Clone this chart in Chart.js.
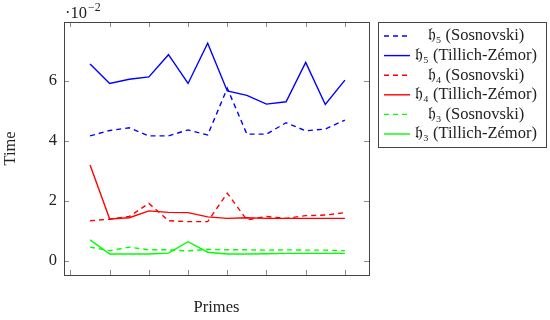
<!DOCTYPE html>
<html>
<head>
<meta charset="utf-8">
<script src="https://cdn.jsdelivr.net/npm/chart.js@4"></script>
<style>
  html, body { margin: 0; padding: 0; background: #fff; }
  #wrap { width: 550px; height: 320px; }
</style>
</head>
<body>
<div id="wrap"><canvas id="chart"></canvas></div>
<script>
// --- Data (Time in units of 10^-2) ---
const primeIdx = [1, 2, 3, 4, 5, 6, 7, 8, 9, 10, 11, 12, 13, 14];
const h5Sos = [4.16, 4.34, 4.43, 4.16, 4.16, 4.36, 4.19, 5.75, 4.22, 4.22, 4.6, 4.33, 4.39, 4.69];
const h5TZ  = [6.56, 5.91, 6.05, 6.13, 6.87, 5.91, 7.25, 5.66, 5.51, 5.22, 5.3, 6.61, 5.21, 6.02];
const h4Sos = [1.33, 1.38, 1.47, 1.91, 1.33, 1.3, 1.3, 2.25, 1.36, 1.47, 1.41, 1.5, 1.52, 1.6];
const h4TZ  = [3.19, 1.39, 1.43, 1.66, 1.61, 1.6, 1.46, 1.41, 1.43, 1.41, 1.41, 1.41, 1.41, 1.41];
const h3Sos = [0.45, 0.33, 0.45, 0.36, 0.36, 0.32, 0.38, 0.36, 0.36, 0.35, 0.36, 0.35, 0.35, 0.33];
const h3TZ  = [0.69, 0.22, 0.22, 0.22, 0.25, 0.63, 0.28, 0.22, 0.22, 0.23, 0.24, 0.24, 0.24, 0.24];
const seriesNames = ['𝔥₅ (Sosnovski)', '𝔥₅ (Tillich-Zémor)', '𝔥₄ (Sosnovski)', '𝔥₄ (Tillich-Zémor)', '𝔥₃ (Sosnovski)', '𝔥₃ (Tillich-Zémor)'];
const yTicks = [0, 2, 4, 6];

const FONT = '"Liberation Serif", "DejaVu Serif", serif';
const FS = 16.5;
const BLUE = 'rgb(0,0,255)', RED = 'rgb(255,0,0)', GREEN = 'rgb(0,255,0)';
const DASH = [5, 4];

const toPoints = arr => arr.map((v, i) => ({ x: primeIdx[i], y: v }));
const mk = (i, vals, color, dashed) => ({
    label: seriesNames[i],
    data: toPoints(vals),
    borderColor: color,
    backgroundColor: color,
    borderWidth: 1.4,
    borderDash: dashed ? DASH : [],
    pointRadius: 0,
    tension: 0,
    fill: false
});

// frame, inward ticks, exponent label and legend
const decor = {
    id: 'decor',
    afterDraw(chart) {
        const { ctx, chartArea: a, scales: { x, y } } = chart;
        ctx.save();
        ctx.lineWidth = 1;
        ctx.strokeStyle = '#8a8a8a';
        ctx.beginPath();
        x.ticks.forEach(t => {
            const px = Math.round(x.getPixelForValue(t.value)) + 0.5;
            ctx.moveTo(px, a.bottom); ctx.lineTo(px, a.bottom - 5);
            ctx.moveTo(px, a.top); ctx.lineTo(px, a.top + 5);
        });
        y.ticks.forEach(t => {
            const py = Math.round(y.getPixelForValue(t.value)) + 0.5;
            ctx.moveTo(a.left, py); ctx.lineTo(a.left + 5, py);
            ctx.moveTo(a.right, py); ctx.lineTo(a.right - 5, py);
        });
        ctx.stroke();
        ctx.strokeStyle = '#444';
        ctx.strokeRect(Math.round(a.left) + 0.5, Math.round(a.top) + 0.5,
            Math.round(a.right - a.left), Math.round(a.bottom - a.top));

        // exponent
        ctx.fillStyle = '#222';
        ctx.textBaseline = 'alphabetic';
        ctx.textAlign = 'left';
        ctx.font = FS + 'px ' + FONT;
        ctx.fillText('·10', a.left + 1, 18);
        const w = ctx.measureText('·10').width;
        ctx.font = '12px ' + FONT;
        ctx.fillText('−2', a.left + 1 + w + 1, 11);

        // legend
        const lx = 378, ly = 22, lw = 168, lh = 125;
        ctx.strokeStyle = '#444';
        ctx.strokeRect(lx + 0.5, ly + 0.5, lw, lh);
        ctx.font = FS + 'px ' + FONT;
        ctx.textAlign = 'center';
        ctx.textBaseline = 'middle';
        chart.data.datasets.forEach((ds, i) => {
            const cy = ly + 14 + i * 19.6;
            ctx.strokeStyle = ds.borderColor;
            ctx.lineWidth = ds.borderWidth;
            ctx.setLineDash(ds.borderDash);
            ctx.beginPath();
            ctx.moveTo(lx + 6, cy); ctx.lineTo(lx + 32, cy);
            ctx.stroke();
            ctx.setLineDash([]);
            ctx.fillStyle = '#222';
            ctx.fillText(ds.label, 476, cy);
        });
        ctx.restore();
    }
};

new Chart(document.getElementById('chart'), {
    type: 'line',
    data: {
        datasets: [
            mk(0, h5Sos, BLUE, true),
            mk(1, h5TZ, BLUE, false),
            mk(2, h4Sos, RED, true),
            mk(3, h4TZ, RED, false),
            mk(4, h3Sos, GREEN, true),
            mk(5, h3TZ, GREEN, false)
        ]
    },
    options: {
        responsive: true,
        maintainAspectRatio: false,
        animation: false,
        layout: { padding: { left: 0, right: 181, top: 22, bottom: 0 } },
        plugins: { legend: { display: false }, tooltip: { enabled: false } },
        scales: {
            x: {
                type: 'linear',
                min: -0.33, max: 15.23,
                grid: { display: false, drawTicks: false },
                border: { display: false },
                ticks: { display: false, stepSize: 2, includeBounds: false },
                title: { display: true, text: 'Primes', color: '#222', font: { family: FONT, size: FS }, padding: { top: 0, bottom: 2 } },
                afterFit: s => { s.height = 45; }
            },
            y: {
                min: -0.48, max: 7.96,
                grid: { display: false, drawTicks: false },
                border: { display: false },
                afterBuildTicks: s => { s.ticks = yTicks.map(v => ({ value: v })); },
                ticks: { color: '#222', padding: 7, font: { family: FONT, size: FS } },
                title: { display: true, text: 'Time', color: '#222', font: { family: FONT, size: FS }, padding: { top: 1, bottom: 0 } },
                afterFit: s => { s.width = 64; }
            }
        }
    },
    plugins: [decor]
});
</script>
</body>
</html>
